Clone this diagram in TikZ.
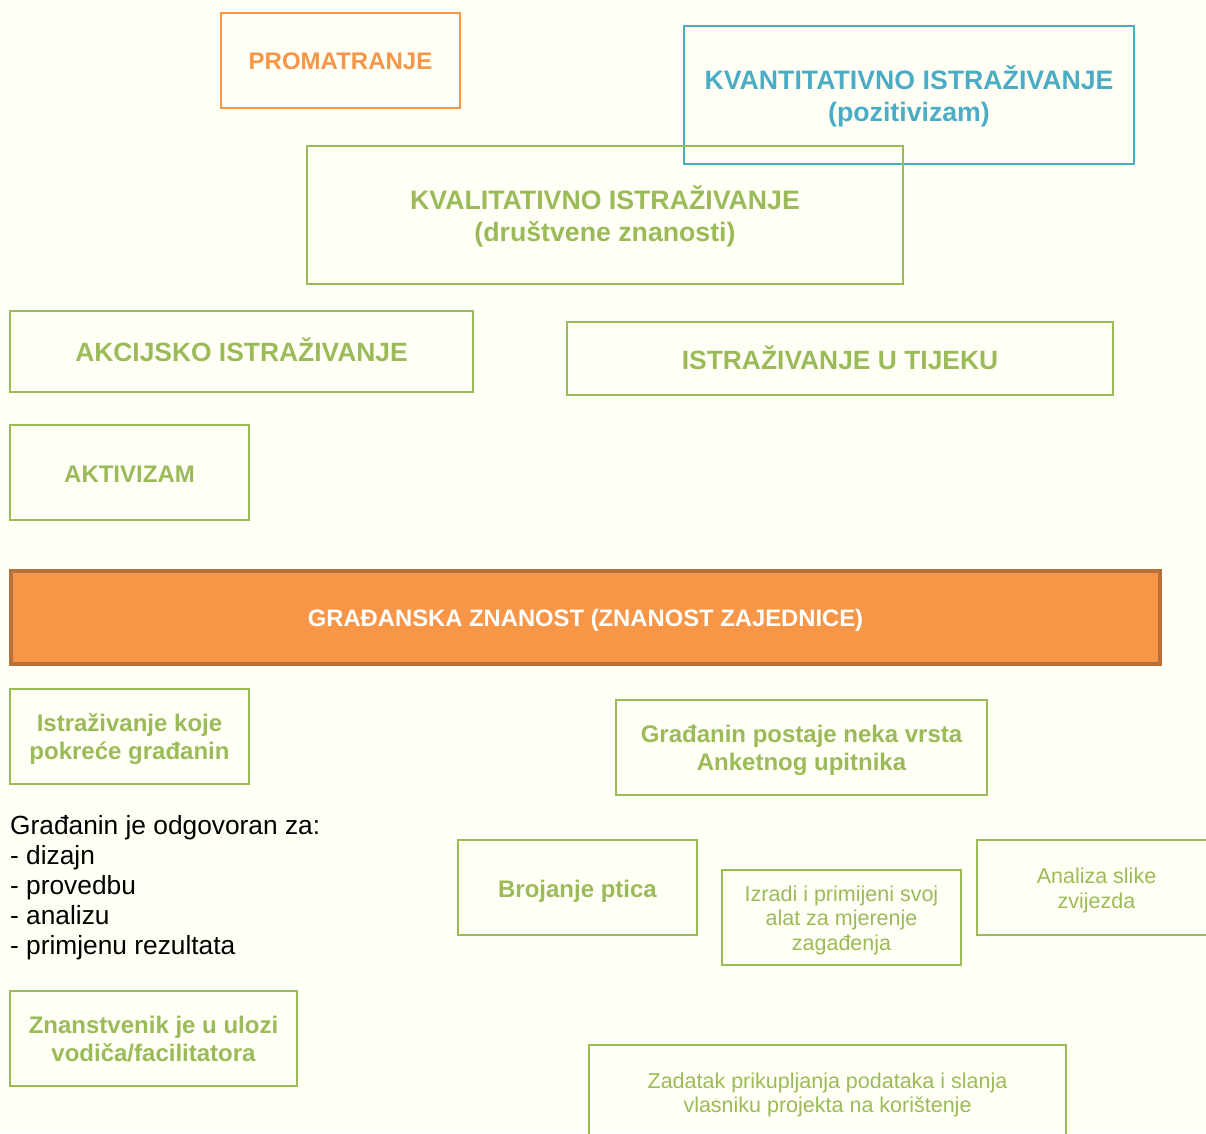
\documentclass[tikz,border=0pt]{standalone}
\usepackage{fontspec}
\setmainfont{Liberation Sans}
\definecolor{bgc}{HTML}{FFFFF5}
\definecolor{gr}{HTML}{9BBB59}
\definecolor{org}{HTML}{F79646}
\definecolor{orgdark}{HTML}{B8703A}
\definecolor{bl}{HTML}{4BACC6}
\begin{document}
\begin{tikzpicture}[x=1pt,y=-1pt,
  box/.style={draw=gr, line width=1.5pt, inner sep=0pt},
  txt/.style={inner sep=0pt, align=center, text=gr},
  hugt/.style={font=\fontsize{26.7}{32}\selectfont\bfseries},
  mhugt/.style={font=\fontsize{26.4}{32}\selectfont\bfseries},
  bigt/.style={font=\fontsize{24}{32}\selectfont\bfseries},
  midt/.style={font=\fontsize{24}{28}\selectfont\bfseries},
  regt/.style={font=\fontsize{21.5}{24.5}\selectfont}]
\fill[bgc] (0,0) rectangle (1206,1133);
\useasboundingbox (0,0) rectangle (1206,1133);
\clip (0,0) rectangle (1206,1133);

\node[box, draw=org, minimum width=239, minimum height=95] (prom) at (340.5,60.5) {};
\node[txt, bigt, text=org] (promt) at ([yshift=-1pt]prom.center) {PROMATRANJE};

\node[box, draw=bl, minimum width=450, minimum height=138] (kvant) at (909,95) {};
\node[txt, hugt, text=bl] (kvantt) at ([yshift=-1pt]kvant.center) {KVANTITATIVNO ISTRAŽIVANJE\\(pozitivizam)};

\node[box, minimum width=596, minimum height=138] (kval) at (605,215) {};
\node[txt, hugt] (kvalt) at ([yshift=-1pt]kval.center) {KVALITATIVNO ISTRAŽIVANJE\\(društvene znanosti)};

\node[box, minimum width=463, minimum height=81] (akc) at (241.5,351.5) {};
\node[txt, mhugt] (akct) at ([yshift=1.5pt]akc.center) {AKCIJSKO ISTRAŽIVANJE};

\node[box, minimum width=546, minimum height=73] (tijek) at (840,358.5) {};
\node[txt, mhugt] (tijekt) at ([yshift=1pt]tijek.center) {ISTRAŽIVANJE U TIJEKU};

\node[box, minimum width=239, minimum height=95] (akt) at (129.5,472.5) {};
\node[txt, bigt] (aktt) at ([yshift=-2pt]akt.center) {AKTIVIZAM};

\node[draw=orgdark, fill=org, line width=4pt, inner sep=0pt, minimum width=1149, minimum height=93] (gz) at (585.5,617.5) {};
\node[txt, text=white, font=\fontsize{23.8}{28}\selectfont\bfseries] (gzt) at ([yshift=-3pt]gz.center) {GRAĐANSKA ZNANOST (ZNANOST ZAJEDNICE)};

\node[box, minimum width=239, minimum height=95] (pokr) at (129.5,736.5) {};
\node[txt, midt] (pokrt) at ([yshift=-3pt]pokr.center) {Istraživanje koje\\pokreće građanin};

\node[box, minimum width=371, minimum height=95] (anket) at (801.5,747.5) {};
\node[txt, midt] (anektt) at ([yshift=-3pt]anket.center) {Građanin postaje neka vrsta\\Anketnog upitnika};

\node[anchor=west, align=left, font=\fontsize{26.3}{30}\selectfont, text=black, inner sep=0pt] (odg) at (10,888) {Građanin je odgovoran za:\\- dizajn\\- provedbu\\- analizu\\- primjenu rezultata};

\node[box, minimum width=239, minimum height=95] (ptica) at (577.5,887.5) {};
\node[txt, midt] (pticat) at ([yshift=-4pt]ptica.center) {Brojanje ptica};

\node[box, minimum width=239, minimum height=95] (izradi) at (841.5,917.5) {};
\node[txt, regt] (izradit) at ([yshift=-2.5pt]izradi.center) {Izradi i primijeni svoj\\alat za mjerenje\\zagađenja};

\node[box, minimum width=239, minimum height=95] (zvij) at (1096.5,887.5) {};
\node[txt, regt] (zvijt) at ([yshift=-3pt]zvij.center) {Analiza slike\\zvijezda};

\node[box, minimum width=287, minimum height=95] (znan) at (153.5,1038.5) {};
\node[txt, midt] (znant) at ([yshift=-1pt]znan.center) {Znanstvenik je u ulozi\\vodiča/facilitatora};

\node[box, minimum width=477, minimum height=95] (zad) at (827.5,1092.5) {};
\node[txt, regt] (zadt) at ([yshift=-2.5pt]zad.center) {Zadatak prikupljanja podataka i slanja\\vlasniku projekta na korištenje};
\end{tikzpicture}
\end{document}
